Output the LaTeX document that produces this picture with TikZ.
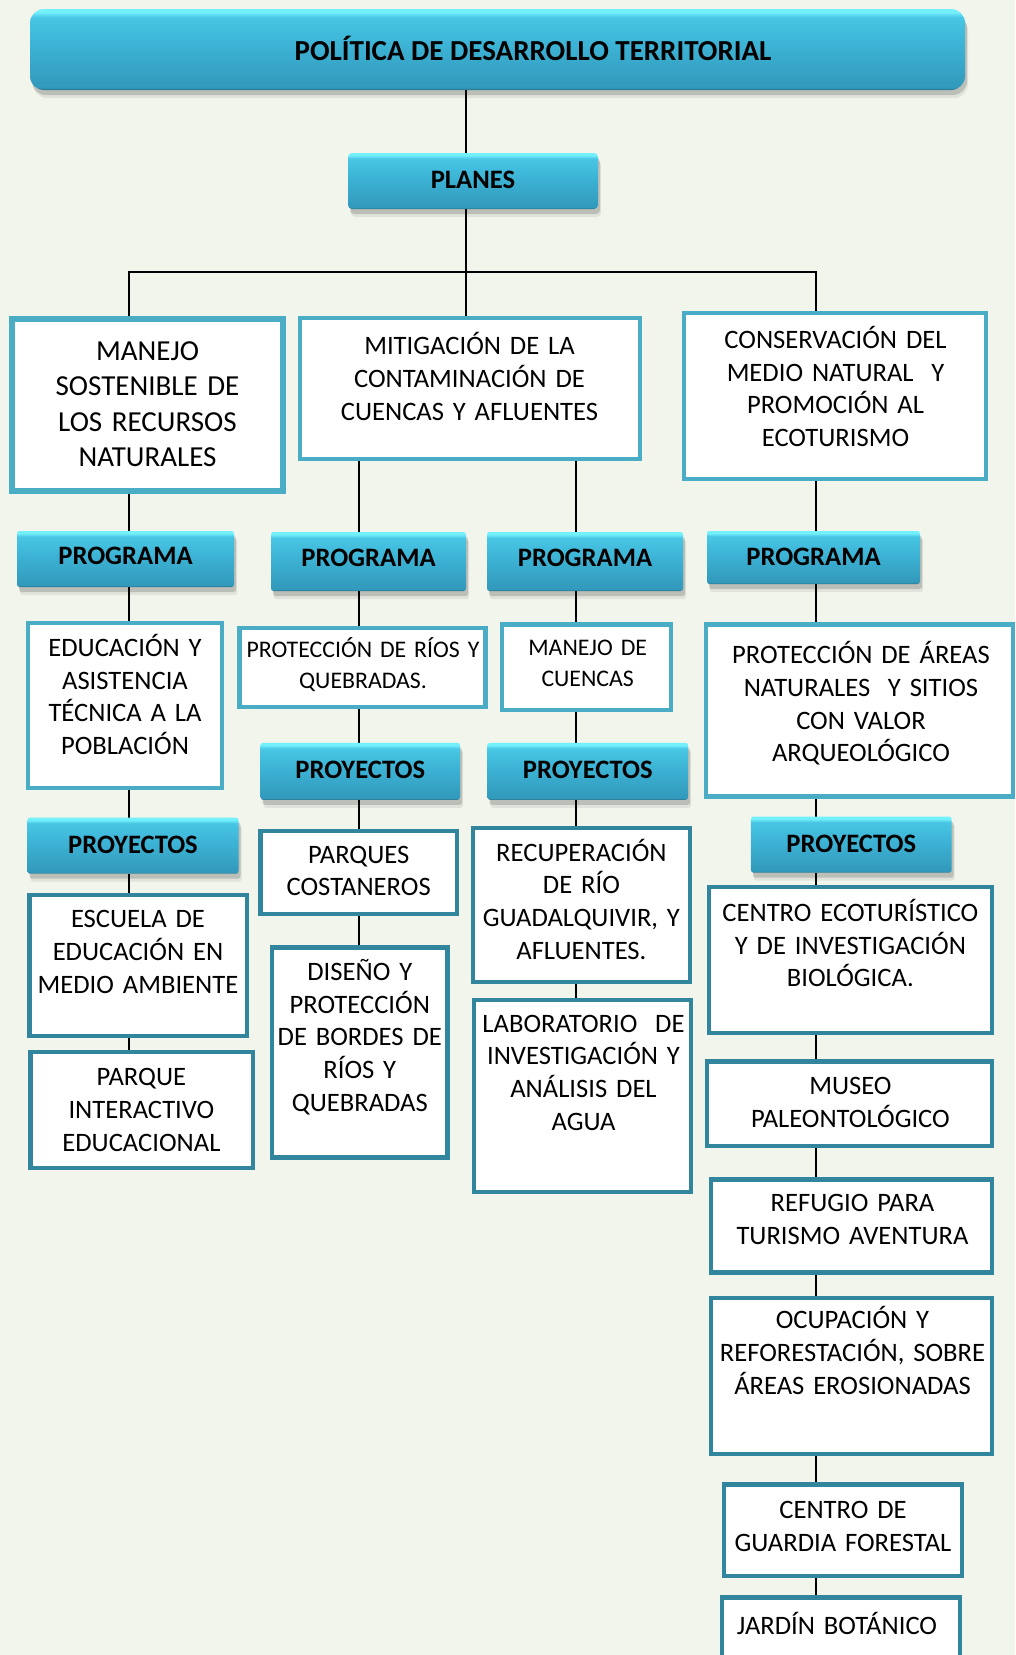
\documentclass[tikz,border=0pt]{standalone}
\usepackage{fontspec}
\setmainfont{Carlito}
\usetikzlibrary{shadows,calc}
\definecolor{bgc}{HTML}{F2F5EC}
\definecolor{lb}{HTML}{4BACC6}
\definecolor{db}{HTML}{31859C}
\definecolor{bH}{HTML}{74F0FD}
\definecolor{bT}{HTML}{48C6E4}
\definecolor{bM}{HTML}{3CB2D4}
\definecolor{bB}{HTML}{3299BB}
\definecolor{bD}{HTML}{256F88}
\pgfdeclareverticalshading{btnshade}{100bp}{color(0bp)=(bD); color(25bp)=(bD); color(26.5bp)=(bB); color(52bp)=(bM); color(70bp)=(bT); color(73bp)=(bH); color(75bp)=(bH); color(100bp)=(bH)}
\pgfdeclarelayer{back}
\pgfdeclarelayer{bg}
\pgfsetlayers{back,bg,main}
\tikzset{
  conn/.style={draw=black, line width=1.8},
  wbox/.style={rectangle, fill=white, inner sep=0, outer sep=0},
  lbox/.style={wbox, draw=lb, line width=4.5},
  dbox/.style={wbox, draw=db, line width=4.2},
  btn/.style={rectangle, rounded corners=2.5, shading=btnshade, inner sep=0, outer sep=0,
    font=\bfseries\fontsize{26.6}{30}\selectfont,
    general shadow={shadow xshift=2pt, shadow yshift=-5pt, fill=black, opacity=.16},
    general shadow={shadow xshift=3pt, shadow yshift=-8pt, fill=black, opacity=.07}},
  raised/.style={text height=17.1pt, text depth=#1},
  txt/.style={anchor=base, inner sep=0, text width=420pt, align=center,
    font=\fontsize{26.6}{32.7}\selectfont},
  bigtxt/.style={txt, font=\fontsize{29}{35.5}\selectfont},
  smalltxt/.style={txt, font=\fontsize{23.8}{30.5}\selectfont}
}
\begin{document}
\begin{tikzpicture}[x=1pt,y=-1pt]
\useasboundingbox (0,0) rectangle (1015,1655);
\begin{pgfonlayer}{back}
\fill[bgc] (0,0) rectangle (1015,1655);
\end{pgfonlayer}
\clip (0,0) rectangle (1015,1655);

% column coordinates
\coordinate (k0) at (466,0);
\coordinate (k1) at (129,0);
\coordinate (k2) at (359,0);
\coordinate (k3) at (576,0);
\coordinate (k4) at (816,0);
\coordinate (jl) at (129,272);
\coordinate (jr) at (816,272);

% title and planes
\node[btn, rounded corners=14, minimum width=935, minimum height=81] (title) at (497.5,49.5) {};
\node[anchor=base, inner sep=0, font=\bfseries\fontsize{29}{34}\selectfont] (titlet) at (533,60) {POLÍTICA DE DESARROLLO TERRITORIAL};
\node[btn, rounded corners=4, raised=2pt, minimum width=250, minimum height=56] (planes) at (473,181) {PLANES};

% plans
\node[lbox, line width=6.5, minimum width=271, minimum height=172] (p1) at (147.5,405) {};
\node[bigtxt] (p1t) at (147.5,360.3) {MANEJO\\SOSTENIBLE DE\\LOS RECURSOS\\NATURALES};
\node[lbox, minimum width=340, minimum height=141] (p2) at (470,388.5) {};
\node[txt] (p2t) at (469.5,354.8) {MITIGACIÓN DE LA\\CONTAMINACIÓN DE\\CUENCAS Y AFLUENTES};
\node[lbox, minimum width=302, minimum height=166] (p3) at (835,396) {};
\node[txt] (p3t) at (835.5,348.5) {CONSERVACIÓN DEL\\MEDIO NATURAL~ Y\\PROMOCIÓN AL\\ECOTURISMO};

% programa buttons
\node[btn, raised=6pt, minimum width=217, minimum height=56] (pg1) at (125.5,559) {PROGRAMA};
\node[btn, raised=8pt, minimum width=195, minimum height=59] (pg2) at (368.5,561.5) {PROGRAMA};
\node[btn, raised=8pt, minimum width=196, minimum height=59] (pg3) at (585,561.5) {PROGRAMA};
\node[btn, raised=2pt, minimum width=213, minimum height=53] (pg4) at (813.5,557.5) {PROGRAMA};

% programs
\node[lbox, minimum width=194, minimum height=165] (pr1) at (125,705.5) {};
\node[txt] (pr1t) at (125,656.4) {EDUCACIÓN Y\\ASISTENCIA\\TÉCNICA A LA\\POBLACIÓN};
\node[lbox, minimum width=246, minimum height=79] (pr2) at (362.5,667.5) {};
\node[smalltxt] (pr2t) at (363,657.7) {PROTECCIÓN DE RÍOS Y\\QUEBRADAS.};
\node[lbox, minimum width=169, minimum height=85.5] (pr3) at (586.5,667.2) {};
\node[smalltxt] (pr3t) at (587.7,655.5) {MANEJO DE\\CUENCAS};
\node[lbox, minimum width=307, minimum height=172] (pr4) at (859.5,710.5) {};
\node[txt] (pr4t) at (861,663.8) {PROTECCIÓN DE ÁREAS\\NATURALES~ Y SITIOS\\CON VALOR\\ARQUEOLÓGICO};

% proyectos buttons
\node[btn, raised=2pt, minimum width=211, minimum height=56] (py1) at (133,845.7) {PROYECTOS};
\node[btn, raised=2pt, minimum width=199.4, minimum height=57] (py2) at (360.3,771.3) {PROYECTOS};
\node[btn, raised=2pt, minimum width=200.5, minimum height=57] (py3) at (587.8,771.3) {PROYECTOS};
\node[btn, raised=2pt, minimum width=200.7, minimum height=56] (py4) at (851.3,844.6) {PROYECTOS};

% projects column 1
\node[dbox, minimum width=217.5, minimum height=141.3] (a1) at (138.2,965.4) {};
\node[txt] (a1t) at (138,927.6) {ESCUELA DE\\EDUCACIÓN EN\\MEDIO AMBIENTE};
\node[dbox, minimum width=222.8, minimum height=116] (a2) at (141.9,1110) {};
\node[txt] (a2t) at (141.4,1085.9) {PARQUE\\INTERACTIVO\\EDUCACIONAL};

% projects column 2
\node[dbox, minimum width=196.5, minimum height=82.3] (b1) at (358.7,872.5) {};
\node[txt] (b1t) at (358.7,863.2) {PARQUES\\COSTANEROS};
\node[dbox, minimum width=175.5, minimum height=210] (b2) at (359.7,1052.5) {};
\node[txt] (b2t) at (359.8,980.3) {DISEÑO Y\\PROTECCIÓN\\DE BORDES DE\\RÍOS Y\\QUEBRADAS};

% projects column 3
\node[dbox, minimum width=217.3, minimum height=154.3] (c1) at (581.3,905.2) {};
\node[txt] (c1t) at (581.4,861.1) {RECUPERACIÓN\\DE RÍO\\GUADALQUIVIR, Y\\AFLUENTES.};
\node[dbox, minimum width=217.3, minimum height=192.3] (c2) at (582.3,1096.2) {};
\node[txt] (c2t) at (583.5,1032) {LABORATORIO~ DE\\INVESTIGACIÓN Y\\ANÁLISIS DEL\\AGUA};

% projects column 4
\node[dbox, minimum width=283, minimum height=145.7] (d1) at (850.5,960.1) {};
\node[txt] (d1t) at (850.4,921.3) {CENTRO ECOTURÍSTICO\\Y DE INVESTIGACIÓN\\BIOLÓGICA.};
\node[dbox, minimum width=285, minimum height=84.6] (d2) at (849.5,1103.7) {};
\node[txt] (d2t) at (850.4,1094.3) {MUSEO\\PALEONTOLÓGICO};
\node[dbox, minimum width=281, minimum height=93] (d3) at (851.5,1226) {};
\node[txt] (d3t) at (852.5,1211.4) {REFUGIO PARA\\TURISMO AVENTURA};
\node[dbox, minimum width=281, minimum height=156] (d4) at (851.5,1375.9) {};
\node[txt] (d4t) at (852.5,1328.6) {OCUPACIÓN Y\\REFORESTACIÓN, SOBRE\\ÁREAS EROSIONADAS};
\node[dbox, minimum width=238.3, minimum height=91.8] (d5) at (843.1,1530.4) {};
\node[txt] (d5t) at (843,1518.5) {CENTRO DE\\GUARDIA FORESTAL};
\node[dbox, minimum width=238.3, minimum height=205] (d6) at (840.9,1699.9) {};
\node[txt] (d6t) at (837,1634) {JARDÍN BOTÁNICO};

% connectors
\begin{pgfonlayer}{bg}
\draw[conn] (title.south -| k0) -- (planes.north -| k0);
\draw[conn] (planes.south -| k0) -- (p2.north -| k0);
\draw[conn] (p1.north -| k1) -- (jl) -- (jr) -- (p3.north -| k4);
\foreach \a/\b in {p1/pg1, pg1/pr1, pr1/py1, py1/a1, a1/a2}
  \draw[conn] (\a.south -| k1) -- (\b.north -| k1);
\foreach \a/\b in {p2/pg2, pg2/pr2, pr2/py2, py2/b1, b1/b2}
  \draw[conn] (\a.south -| k2) -- (\b.north -| k2);
\foreach \a/\b in {p2/pg3, pg3/pr3, pr3/py3, py3/c1, c1/c2}
  \draw[conn] (\a.south -| k3) -- (\b.north -| k3);
\foreach \a/\b in {p3/pg4, pg4/pr4, pr4/py4, py4/d1, d1/d2, d2/d3, d3/d4, d4/d5, d5/d6}
  \draw[conn] (\a.south -| k4) -- (\b.north -| k4);
\end{pgfonlayer}
\end{tikzpicture}
\end{document}
